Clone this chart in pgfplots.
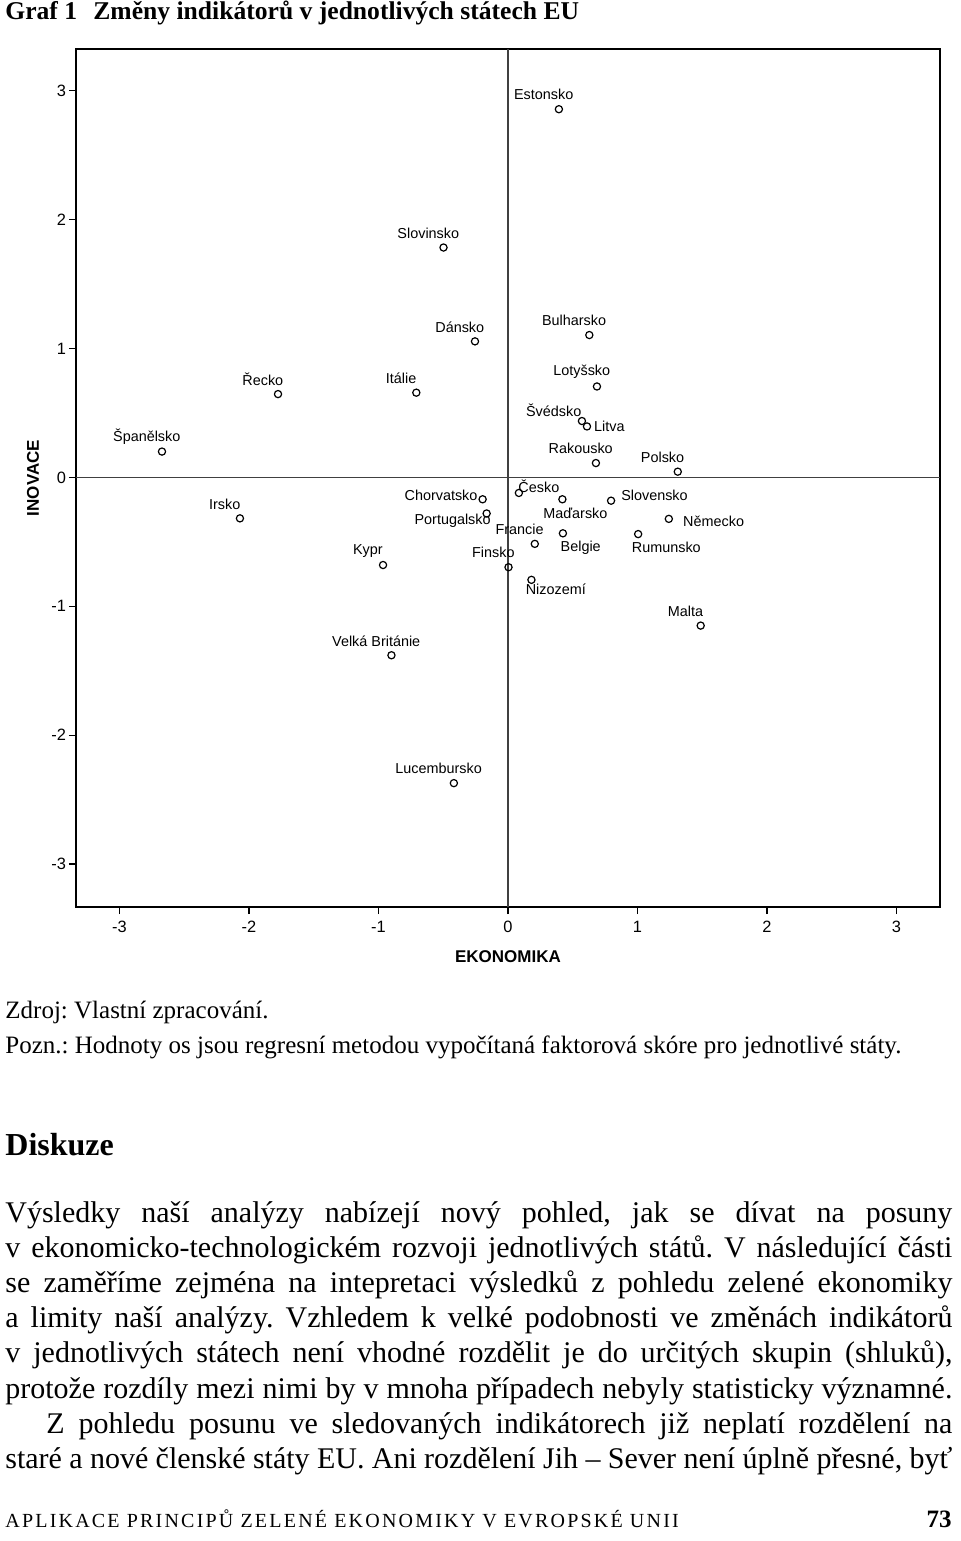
\documentclass[border=0pt]{standalone}
\usepackage{fontspec}
\setmainfont{Liberation Serif}
\newfontfamily\arial{Liberation Sans}
\usepackage{pgfplots}
\pgfplotsset{compat=1.18}
\usepackage{pgfplotstable}

% factor scores per state; dx/dy = label offset in pt
\pgfplotstableread[col sep=comma,row sep=\\]{
x,y,label,dx,dy\\
0.393,2.856,Estonsko,-7.6,7.2\\
-0.498,1.783,Slovinsko,-7.6,7.2\\
-0.255,1.055,Dánsko,-7.6,7.2\\
0.628,1.104,Bulharsko,-7.6,7.2\\
-1.776,0.646,Řecko,-7.6,7.2\\
-0.708,0.657,Itálie,-7.6,7.2\\
-2.672,0.200,Španělsko,-7.6,7.2\\
0.687,0.705,Lotyšsko,-7.6,7.2\\
0.571,0.437,Švédsko,-14.1,5.3\\
0.610,0.395,Litva,11.2,0\\
0.679,0.111,Rakousko,-7.6,7.2\\
1.311,0.044,Polsko,-7.6,7.2\\
-2.070,-0.318,Irsko,-7.6,7.2\\
-0.196,-0.170,Chorvatsko,-20.8,2.0\\
-0.165,-0.280,Portugalsko,-17.0,-3.9\\
0.084,-0.121,Česko,10.0,3.3\\
0.420,-0.170,Maďarsko,6.5,-6.8\\
0.796,-0.181,Slovensko,21.7,2.7\\
1.242,-0.322,Německo,22.4,-1.2\\
0.207,-0.516,Francie,-7.6,7.2\\
0.424,-0.434,Belgie,8.9,-7.0\\
1.005,-0.440,Rumunsko,14.1,-6.7\\
-0.965,-0.680,Kypr,-7.6,7.2\\
0.004,-0.697,Finsko,-7.6,7.2\\
0.181,-0.795,Nizozemí,12.2,-4.9\\
1.488,-1.150,Malta,-7.6,7.2\\
-0.900,-1.380,Velká Británie,-7.6,7.2\\
-0.418,-2.372,Lucembursko,-7.6,7.2\\
}\statedata

\newcommand{\bodyline}[1]{\makebox[473.5pt][s]{#1}}
\frenchspacing

\begin{document}
\begin{tikzpicture}
\path (0,0) rectangle (480pt,-770.5pt);

\node[anchor=base west,inner sep=0pt,font=\bfseries\fontsize{12.8}{14}\selectfont] at (2.5pt,-10pt) {Graf 1};
\node[anchor=base west,inner sep=0pt,font=\bfseries\fontsize{12.8}{14}\selectfont] at (46.5pt,-10pt) {Změny indikátorů v jednotlivých státech EU};

\begin{axis}[
  at={(38pt,-453.5pt)}, anchor=south west,
  width=432pt, height=429pt, scale only axis,
  xmin=-3.336, xmax=3.336, ymin=-3.333, ymax=3.323,
  xtick={-3,-2,-1,0,1,2,3}, ytick={-3,-2,-1,0,1,2,3},
  tick pos=left, tick align=outside, major tick length=3.5pt,
  tick style={black,line width=0.6pt},
  axis line style={black,line width=0.7pt},
  ticklabel style={font=\arial\fontsize{8.2}{9}\selectfont},
  yticklabel style={xshift=2pt},
  /pgf/number format/assume math mode=true,
  xlabel={EKONOMIKA}, ylabel={INOVACE},
  label style={font=\arial\bfseries\fontsize{8.5}{10}\selectfont},
  xlabel style={at={(axis description cs:0.5,0)},anchor=center,yshift=-24.8pt},
  ylabel style={at={(axis description cs:0,0.5)},anchor=center,yshift=21.5pt},
  clip=false,
]
\addplot[gray!50!black,line width=0.7pt] coordinates {(0,-3.333) (0,3.323)};
\addplot[gray!50!black,line width=0.7pt] coordinates {(-3.336,0) (3.336,0)};
\addplot[only marks, mark=o, mark size=1.8pt, mark options={black,line width=0.6pt},
  point meta=explicit symbolic,
  visualization depends on={\thisrow{dx} \as \labdx},
  visualization depends on={\thisrow{dy} \as \labdy},
  nodes near coords,
  every node near coord/.append style={font=\arial\fontsize{7.2}{8}\selectfont,
    anchor=center, inner sep=0pt, xshift=\labdx pt, yshift=\labdy pt, text=black},
] table[x=x,y=y,meta=label] {\statedata};
\end{axis}

\begin{scope}[every node/.style={anchor=base west,inner sep=0pt}]
\node[font=\fontsize{12.5}{14}\selectfont] at (2.5pt,-509.2pt) {Zdroj: Vlastní zpracování.};
\node[font=\fontsize{12.5}{14}\selectfont] at (2.5pt,-526.7pt) {Pozn.: Hodnoty os jsou regresní metodou vypočítaná faktorová skóre pro jednotlivé státy.};
\node[font=\bfseries\fontsize{16}{18}\selectfont] at (2.5pt,-577.5pt) {Diskuze};
\begin{scope}[font=\fontsize{15}{17}\selectfont]
\node at (2.5pt,-611pt) {\bodyline{Výsledky naší analýzy nabízejí nový pohled, jak se dívat na posuny}};
\node at (2.5pt,-628.6pt) {\bodyline{v ekonomicko-technologickém rozvoji jednotlivých států. V následující části}};
\node at (2.5pt,-646.2pt) {\bodyline{se zaměříme zejména na intepretaci výsledků z pohledu zelené ekonomiky}};
\node at (2.5pt,-663.8pt) {\bodyline{a limity naší analýzy. Vzhledem k velké podobnosti ve změnách indikátorů}};
\node at (2.5pt,-681.4pt) {\bodyline{v jednotlivých státech není vhodné rozdělit je do určitých skupin (shluků),}};
\node at (2.5pt,-699pt) {\bodyline{protože rozdíly mezi nimi by v mnoha případech nebyly statisticky významné.}};
\node at (23pt,-716.6pt) {\makebox[453pt][s]{Z pohledu posunu ve sledovaných indikátorech již neplatí rozdělení na}};
\node at (2.5pt,-734.2pt) {\bodyline{staré a nové členské státy EU. Ani rozdělení Jih – Sever není úplně přesné, byť}};
\end{scope}
\node[font=\fontsize{10}{12}\selectfont\addfontfeature{LetterSpace=11}] at (2.5pt,-763.5pt) {APLIKACE PRINCIPŮ ZELENÉ EKONOMIKY V EVROPSKÉ UNII};
\node[anchor=base east,font=\bfseries\fontsize{12.5}{14}\selectfont] at (476pt,-763.5pt) {73};
\end{scope}
\end{tikzpicture}
\end{document}
